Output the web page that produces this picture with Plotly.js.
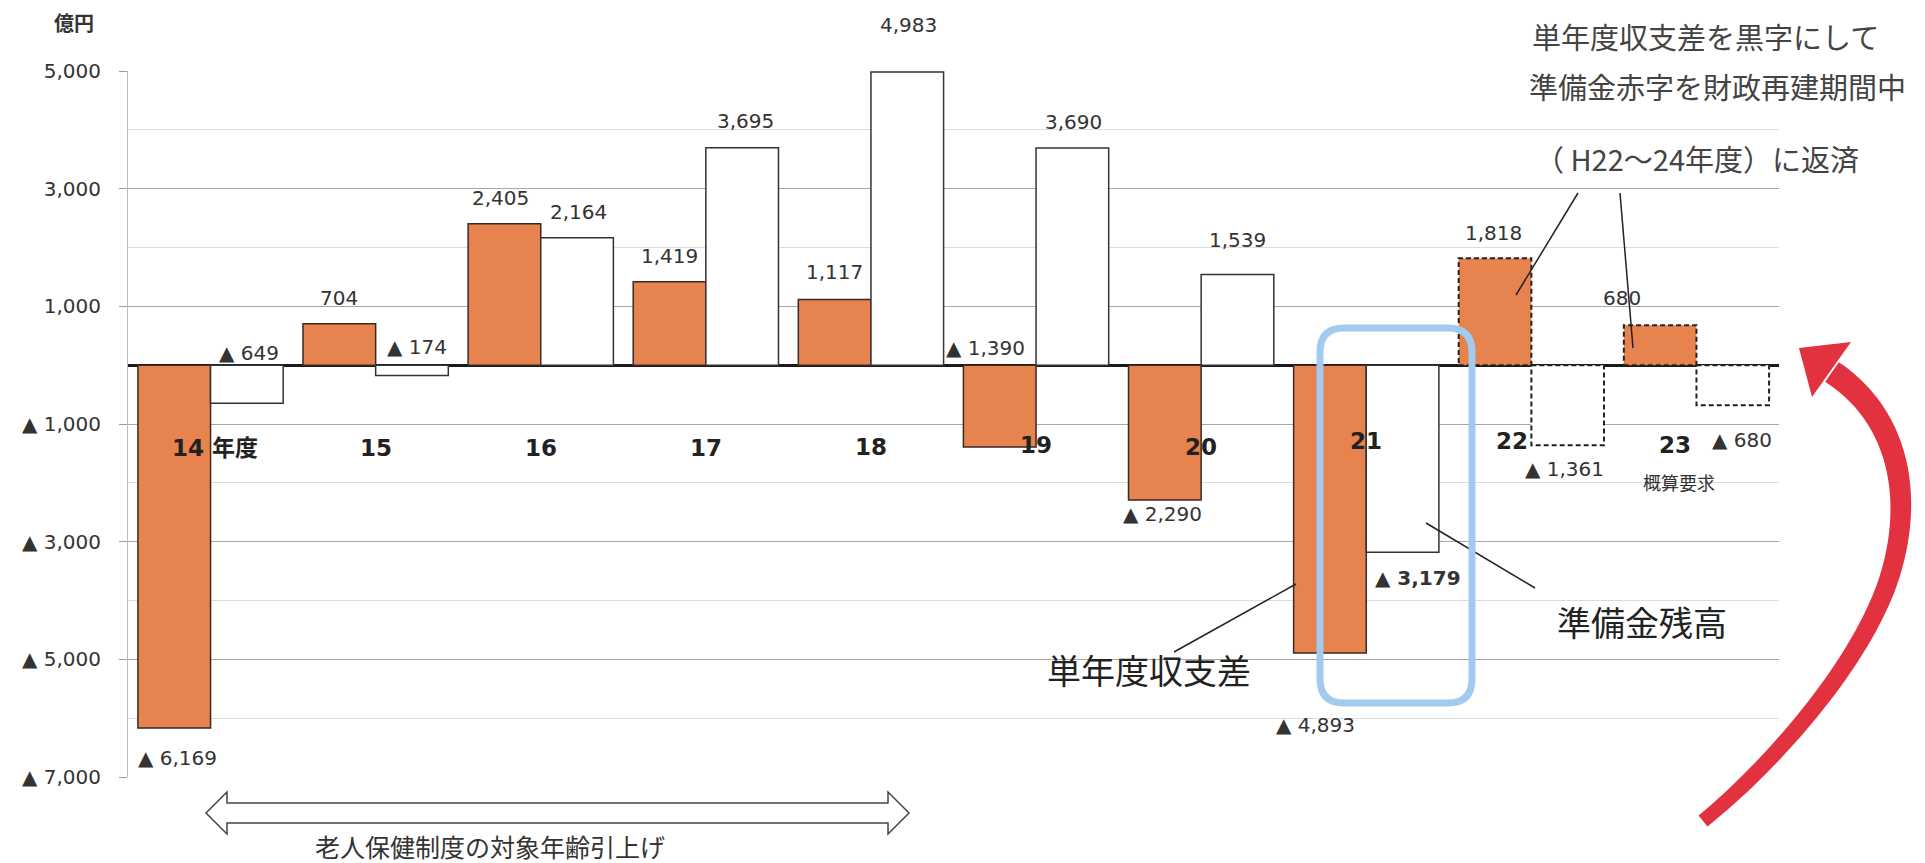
<!DOCTYPE html>
<html><head><meta charset="utf-8">
<script src="https://cdn.plot.ly/plotly-3.0.1.min.js"></script>
<style>html,body{margin:0;padding:0;background:#fff;} #chart{width:1925px;height:863px;}</style>
</head><body><div id="chart"></div>
<script>
// ---- data ----
const categories = ['14 年度','15','16','17','18','19','20','21','22','23'];
const balanceDiff = [-6169, 704, 2405, 1419, 1117, -1390, -2290, -4893, 1818, 680];      // 単年度収支差
const reserveBalance = [-649, -174, 2164, 3695, 4983, 3690, 1539, -3179, -1361, -680];  // 準備金残高
const projected = [false,false,false,false,false,false,false,false,true,true];          // 22・23 (dashed)
const yTickVals = [5000, 3000, 1000, -1000, -3000, -5000, -7000];
const yTickText = ['5,000','3,000','1,000','▲ 1,000','▲ 3,000','▲ 5,000','▲ 7,000'];
const yMinorVals = [4000, 2000, -2000, -4000, -6000];

// ---- styling (pixel offsets of labels etc.) ----
const orangeOff = [[3,30],[0,-26],[-4,-26],[0,-26],[0,-27],[-14,-99],[-2,14],[-14,72],[-2,-25],[-38,-27]];
const whiteOff  = [[2,-50],[5,-28],[1,-26],[3,-27],[1,-47],[1,-26],[0,-35],[15,26],[-3,24],[9,35]];
const catOff = [[4,-83],[0,-83],[0,-83],[0,-83],[0,-82],[0,-80],[0,-82],[0,-76],[-19,-76],[-21,-80]];
const BW = 0.44;
const L = 128, T = 71, W = 1651, H = 706;
const px = x => (x - L) / W;
const py = y => (T + H - y) / H;
const fmt = v => (v < 0 ? '▲ ' : '') + Math.abs(v).toLocaleString('en-US');

const ORANGE = '#E6834F', BORDER = '#3b2a22';

const traces = [
  {type:'bar', x: categories, y: balanceDiff, width: BW, offset: -BW,
   marker:{color: ORANGE, line:{color: BORDER, width: projected.map(p => p ? 0 : 1.5)}},
   hoverinfo:'skip', name:'単年度収支差'},
  {type:'bar', x: categories, y: reserveBalance, width: BW, offset: 0,
   marker:{color:'#ffffff', line:{color:'#333', width: projected.map(p => p ? 0 : 1.5)}},
   hoverinfo:'skip', name:'準備金残高'}
];

const annotations = [];
const numFont = {family:'DejaVu Sans', size:20, color:'#333'};
categories.forEach((c, i) => {
  annotations.push({xref:'x', yref:'y', x: i - BW/2, y: balanceDiff[i], text: fmt(balanceDiff[i]),
    showarrow:false, xshift: orangeOff[i][0], yshift: -orangeOff[i][1], font: numFont});
  annotations.push({xref:'x', yref:'y', x: i + BW/2, y: reserveBalance[i],
    text: i === 7 ? '<b>' + fmt(reserveBalance[i]) + '</b>' : fmt(reserveBalance[i]),
    showarrow:false, xshift: whiteOff[i][0], yshift: -whiteOff[i][1], font: numFont});
  annotations.push({xref:'x', yref:'y', x: i, y: 0, text: '<b>' + c + '</b>', showarrow:false,
    xshift: catOff[i][0], yshift: catOff[i][1],
    font:{family:'DejaVu Sans, Noto Sans CJK JP', size:23, color:'#222'}});
});
function txt(text, x, y, size, extra) {
  annotations.push(Object.assign({xref:'paper', yref:'paper', x: px(x), y: py(y), text: text,
    showarrow:false, xanchor:'center', yanchor:'middle',
    font:{family:'Noto Sans CJK JP', size: size, color:'#333'}}, extra || {}));
}
txt('<b>億円</b>', 74, 23, 20);
txt('概算要求', 1679, 482, 18);
txt('単年度収支差', 1149, 669, 34, {font:{family:'Noto Sans CJK JP', size:34, color:'#222'}});
txt('準備金残高', 1642, 621, 34, {font:{family:'Noto Sans CJK JP', size:34, color:'#222'}});
txt('老人保健制度の対象年齢引上げ', 490, 846, 25, {borderpad:0});
txt('単年度収支差を黒字にして', 1705, 36, 29, {font:{family:'Noto Sans CJK JP', size:29, color:'#444'}});
txt('準備金赤字を財政再建期間中', 1717, 86, 29, {font:{family:'Noto Sans CJK JP', size:29, color:'#444'}});
txt('（ H22〜24年度）に返済', 1697, 158, 29, {font:{family:'Noto Sans CJK JP', size:29, color:'#444'}});

const shapes = [];
// dashed outlines of projected bars
categories.forEach((c, i) => {
  if (!projected[i]) return;
  shapes.push({type:'rect', xref:'x', yref:'y', x0: i - BW, x1: i, y0: 0, y1: balanceDiff[i],
    line:{color:'#222', width:2, dash:'5px,3px'}, layer:'above'});
  shapes.push({type:'rect', xref:'x', yref:'y', x0: i, x1: i + BW, y0: 0, y1: reserveBalance[i],
    line:{color:'#222', width:2, dash:'5px,3px'}, layer:'above'});
});
function pline(x0,y0,x1,y1,w,col){
  shapes.push({type:'line', xref:'paper', yref:'paper', x0:px(x0), y0:py(y0), x1:px(x1), y1:py(y1),
    line:{color: col || '#222', width: w || 1.5}, layer:'above'});
}
pline(1578,193,1516,295);
pline(1620,193,1633,348);
pline(1174,652,1296,584);
pline(1426,523,1535,588);

function P(x,y){ return px(x).toFixed(5) + ',' + py(y).toFixed(5); }
// blue rounded rectangle
(function(){
  const l=1320, r=1472, t=328, b=703, k=24;
  const path = 'M' + P(l+k,t) + ' L' + P(r-k,t) + ' Q' + P(r,t) + ' ' + P(r,t+k) +
    ' L' + P(r,b-k) + ' Q' + P(r,b) + ' ' + P(r-k,b) + ' L' + P(l+k,b) + ' Q' + P(l,b) + ' ' + P(l,b-k) +
    ' L' + P(l,t+k) + ' Q' + P(l,t) + ' ' + P(l+k,t) + ' Z';
  shapes.push({type:'path', xref:'paper', yref:'paper', path: path, line:{color:'#A3CBEF', width:7}, layer:'above'});
})();
// bottom double arrow
(function(){
  const a=206, b=909, yc=813, sh=10, hh=21, hl=21;
  const pts = [[a,yc],[a+hl,yc-hh],[a+hl,yc-sh],[b-hl,yc-sh],[b-hl,yc-hh],[b,yc],[b-hl,yc+hh],[b-hl,yc+sh],[a+hl,yc+sh],[a+hl,yc+hh]];
  const path = 'M' + pts.map(p => P(p[0],p[1])).join(' L') + ' Z';
  shapes.push({type:'path', xref:'paper', yref:'paper', path: path, fillcolor:'#ffffff', line:{color:'#444', width:1.5}, layer:'above'});
})();
// red curved arrow
(function(){
  const segs = [[[1703,821],[1760,775],[1850,680],[1885,590]], [[1885,590],[1915,510],[1905,420],[1832,372]]];
  const cen = [];
  segs.forEach((s, si) => {
    for (let k = (si ? 1 : 0); k <= 30; k++) {
      const t = k/30, u = 1-t;
      cen.push([u*u*u*s[0][0]+3*u*u*t*s[1][0]+3*u*t*t*s[2][0]+t*t*t*s[3][0],
                u*u*u*s[0][1]+3*u*u*t*s[1][1]+3*u*t*t*s[2][1]+t*t*t*s[3][1]]);
    }
  });
  const left = [], right = [];
  cen.forEach((p, i) => {
    const a = cen[Math.max(0,i-1)], b = cen[Math.min(cen.length-1,i+1)];
    let dx = b[0]-a[0], dy = b[1]-a[1]; const n = Math.hypot(dx,dy); dx/=n; dy/=n;
    const w = (14 + 10 * i/(cen.length-1)) / 2;
    left.push([p[0] - dy*w, p[1] + dx*w]);
    right.push([p[0] + dy*w, p[1] - dx*w]);
  });
  const poly = left.concat(right.reverse());
  const path = 'M' + poly.map(p => P(p[0],p[1])).join(' L') + ' Z';
  shapes.push({type:'path', xref:'paper', yref:'paper', path: path, fillcolor:'#E2323F', line:{width:0}, layer:'above'});
  const head = [[1799,348],[1851,342],[1812,397]];
  shapes.push({type:'path', xref:'paper', yref:'paper', path: 'M' + head.map(p => P(p[0],p[1])).join(' L') + ' Z',
    fillcolor:'#E2323F', line:{width:0}, layer:'above'});
})();

const layout = {
  width:1925, height:863,
  margin:{l:L, r:1925-L-W, t:T, b:863-T-H},
  paper_bgcolor:'#ffffff', plot_bgcolor:'#ffffff',
  showlegend:false, barmode:'group',
  font:{family:'DejaVu Sans, Noto Sans CJK JP', color:'#333'},
  xaxis:{type:'category', range:[-0.5, 9.5], showticklabels:false, showgrid:false, zeroline:false, showline:false, ticks:'', fixedrange:true},
  yaxis:{range:[-7000, 5000], tickmode:'array', tickvals:yTickVals, ticktext:yTickText,
    ticks:'outside', ticklen:8, tickcolor:'#999', tickwidth:1, ticklabelstandoff:14,
    tickfont:{family:'DejaVu Sans', size:20, color:'#333'},
    showgrid:true, gridcolor:'#a9a9a9', gridwidth:1,
    minor:{tickmode:'array', tickvals:yMinorVals, showgrid:true, gridcolor:'#dcdcdc', gridwidth:1, ticks:''},
    zeroline:true, zerolinecolor:'#1a1a1a', zerolinewidth:3,
    showline:true, linecolor:'#bdbdbd', linewidth:1, fixedrange:true},
  annotations: annotations,
  shapes: shapes
};
Plotly.newPlot('chart', traces, layout, {displayModeBar:false, staticPlot:true});
</script></body></html>
